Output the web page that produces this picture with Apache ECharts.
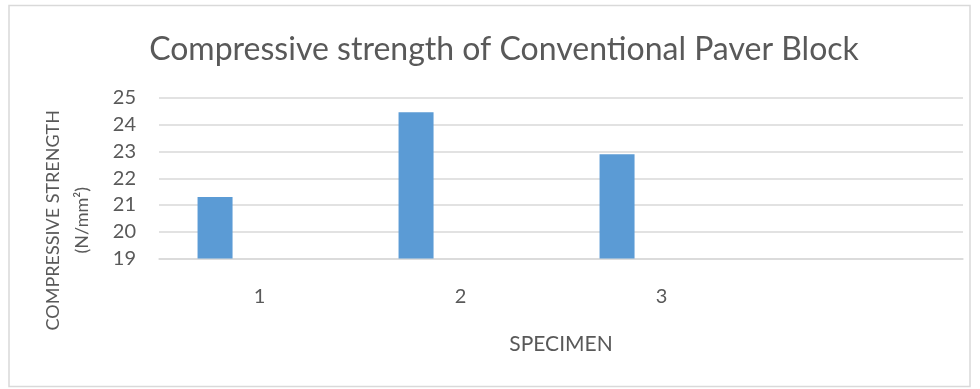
<!DOCTYPE html>
<html>
<head>
<meta charset="utf-8">
<title>Compressive strength of Conventional Paver Block</title>
<script src="https://cdn.jsdelivr.net/npm/echarts@6/dist/echarts.min.js"></script>
<style>
  html, body { margin: 0; padding: 0; background: #ffffff; }
  #chart { width: 980px; height: 389px; }
</style>
</head>
<body>
<div id="chart"></div>
<script>
// Specimen categories (the fourth slot is left blank on the axis)
const specimens = ['1', '2', '3', ''];
// Compressive strength per specimen, N/mm²
const strength = [21.3, 24.47, 22.9, null];
// Empty companion series that reserve the remaining bar slots in each group
const spareA = [null, null, null, null];
const spareB = [null, null, null, null];
// Value axis range
const yMin = 19;
const yMax = 25;
const yStep = 1;

const textColor = '#595959';
const gridColor = '#D9D9D9';
const font = 'Lato';

const chart = echarts.init(document.getElementById('chart'), null, { renderer: 'canvas' });

chart.setOption({
  backgroundColor: '#ffffff',
  animation: false,
  title: {
    text: 'Compressive strength of Conventional Paver Block',
    left: 499,
    top: 29,
    textAlign: 'center',
    textStyle: { fontFamily: font, fontSize: 32, fontWeight: 'normal', color: textColor }
  },
  grid: { left: 159, right: 17, top: 98, bottom: 130.5, containLabel: false },
  xAxis: {
    type: 'category',
    data: specimens,
    name: 'SPECIMEN',
    nameLocation: 'middle',
    nameGap: 75,
    nameTextStyle: { fontFamily: font, fontSize: 21, color: textColor },
    axisLine: { show: true, lineStyle: { color: gridColor, width: 1.5 } },
    axisTick: { show: false },
    axisLabel: { fontFamily: font, fontSize: 20, color: textColor, margin: 28 }
  },
  yAxis: {
    type: 'value',
    min: yMin,
    max: yMax,
    interval: yStep,
    name: 'COMPRESSIVE STRENGTH\n(N/mm²)',
    nameLocation: 'middle',
    nameGap: 62,
    nameRotate: 90,
    nameTextStyle: {
      fontFamily: font, fontSize: 18, color: textColor,
      lineHeight: 29, align: 'center', padding: [0, 84, 0, 0]
    },
    axisLine: { show: false },
    axisTick: { show: false },
    axisLabel: { fontFamily: font, fontSize: 20, color: textColor, margin: 23 },
    splitLine: { show: true, lineStyle: { color: gridColor, width: 1.5 } }
  },
  series: [
    {
      name: 'Strength',
      type: 'bar',
      data: strength,
      barWidth: 35,
      barGap: '27%',
      itemStyle: { color: '#5B9BD5' }
    },
    { name: 'Spare A', type: 'bar', data: spareA, barWidth: 35, barGap: '27%' },
    { name: 'Spare B', type: 'bar', data: spareB, barWidth: 35, barGap: '27%' }
  ],
  graphic: [
    {
      type: 'rect',
      shape: { x: 9, y: 5.5, width: 961, height: 381 },
      style: { fill: 'none', stroke: gridColor, lineWidth: 1.5 },
      silent: true
    }
  ]
});
</script>
</body>
</html>
